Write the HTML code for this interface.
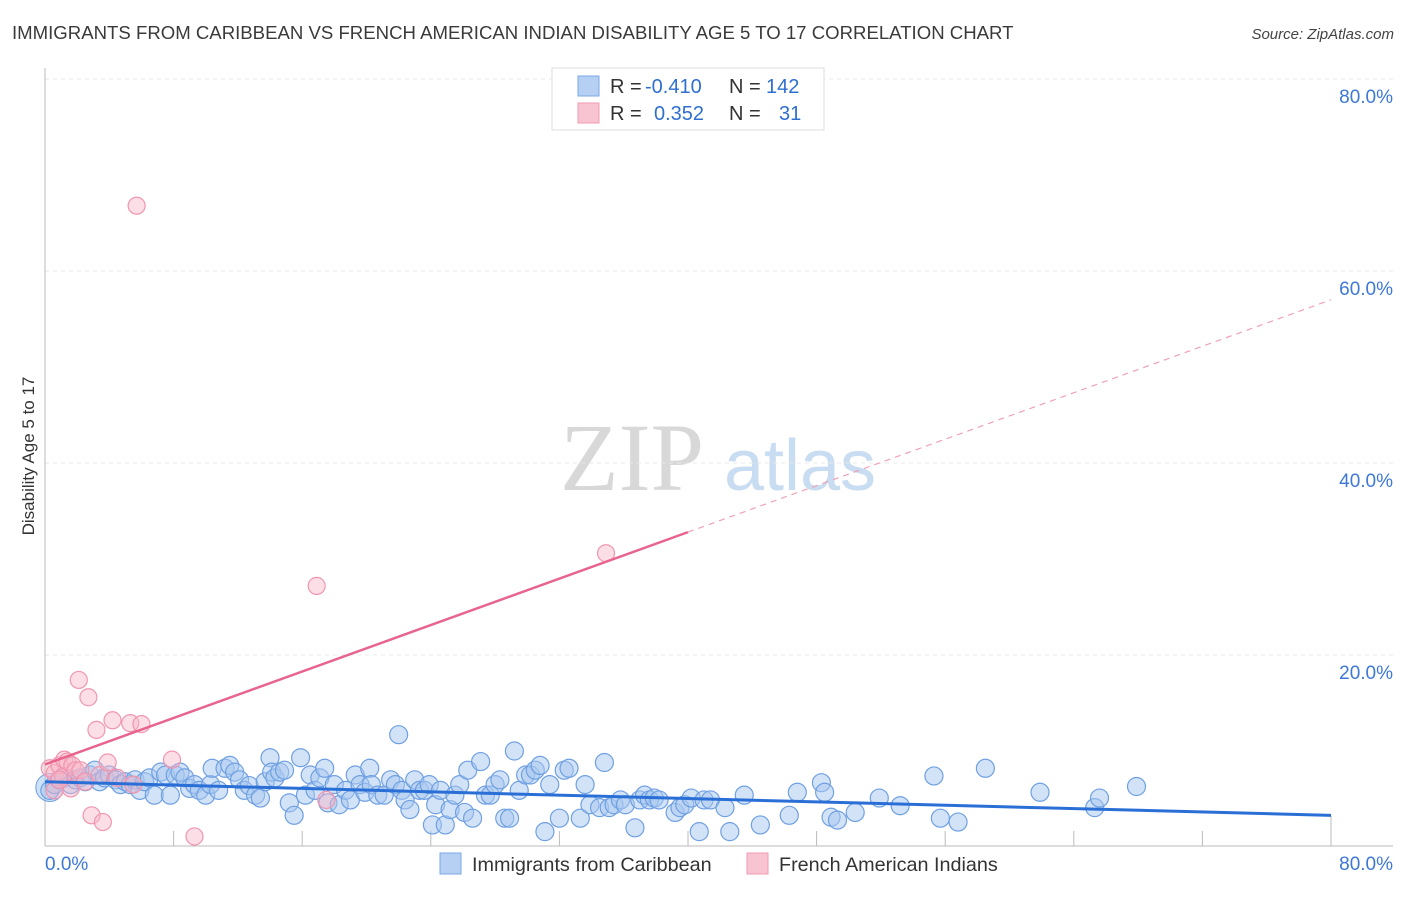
<!DOCTYPE html>
<html><head><meta charset="utf-8"><style>
body{margin:0;background:#fff;width:1406px;height:892px;overflow:hidden;font-family:"Liberation Sans",sans-serif}
</style></head><body>
<svg id="chart" width="1406" height="892" xmlns="http://www.w3.org/2000/svg">
<text x="12" y="39" font-size="18.6" fill="#3a3a3a">IMMIGRANTS FROM CARIBBEAN VS FRENCH AMERICAN INDIAN DISABILITY AGE 5 TO 17 CORRELATION CHART</text>
<text x="1394" y="39" font-size="15" fill="#444" font-style="italic" text-anchor="end">Source: ZipAtlas.com</text>
<text transform="translate(34,456) rotate(-90)" font-size="17" fill="#333" text-anchor="middle">Disability Age 5 to 17</text>
<g>
<text x="632" y="490" font-size="96" fill="#d8d8d8" font-family="Liberation Serif,serif" text-anchor="middle">ZIP</text>
<text x="800" y="490" font-size="72" fill="#c8dcf2" text-anchor="middle">atlas</text>
</g>
<g id="grid"></g><g id="axes"></g><g id="pts"></g><g id="trend"></g>
<g>
<rect x="552" y="68" width="272" height="62" fill="#fff" stroke="#ddd"/>
<rect x="578" y="76" width="21" height="20" fill="#b5d0f2" stroke="#7aa8e6"/>
<rect x="578" y="103" width="21" height="20" fill="#f9c4d2" stroke="#f09ab2"/>
<text x="610" y="93" font-size="20" fill="#333">R = <tspan fill="#2f6fd0" x="645">-0.410</tspan><tspan x="729">N = </tspan><tspan fill="#2f6fd0" x="766">142</tspan></text>
<text x="610" y="120" font-size="20" fill="#333">R = <tspan fill="#2f6fd0" x="654">0.352</tspan><tspan x="729">N = </tspan><tspan fill="#2f6fd0" x="779">31</tspan></text>
</g>
<g>
<rect x="440" y="853" width="21" height="21" fill="#b5d0f2" stroke="#7aa8e6"/>
<text x="472" y="871" font-size="19.8" fill="#333">Immigrants from Caribbean</text>
<rect x="747" y="853" width="21" height="21" fill="#f9c4d2" stroke="#f09ab2"/>
<text x="779" y="871" font-size="19.8" fill="#333">French American Indians</text>
</g>
</svg>
<script>
const blueX=[0.3,0.6,0.9,1.2,1.6,1.9,2.2,2.5,2.8,3.1,3.4,3.7,4.0,4.4,4.7,5.0,5.3,5.6,5.9,6.2,6.5,6.8,7.2,7.5,7.8,8.1,8.4,8.7,9.0,9.3,9.6,10.0,10.3,10.4,10.8,11.2,11.5,11.8,12.1,12.4,12.7,13.1,13.4,13.7,14.0,14.1,14.3,14.6,14.9,15.2,15.5,15.9,16.2,16.5,16.8,17.1,17.4,17.6,18.0,18.3,18.7,19.0,19.3,19.6,19.9,20.2,20.3,20.7,21.1,21.5,21.8,22.0,22.2,22.4,22.7,23.0,23.3,23.6,23.9,24.1,24.3,24.6,24.9,25.2,25.5,25.8,26.1,26.3,26.6,27.1,27.4,27.7,28.0,28.3,28.6,28.9,29.2,29.5,29.9,30.2,30.5,30.8,31.1,31.4,32.0,32.3,32.6,33.3,33.6,33.9,34.5,34.8,35.1,35.4,35.8,36.1,36.7,37.0,37.3,37.6,37.9,38.2,39.2,39.5,39.8,40.2,40.7,41.0,41.4,42.3,42.6,43.5,44.5,46.3,46.8,48.3,48.5,48.9,49.3,50.4,51.9,53.2,55.3,55.7,56.8,58.5,61.9,65.3,65.6,67.9];
const blueY=[5.9,6.5,7.0,7.2,6.5,7.0,7.2,6.8,7.5,8.0,6.8,7.2,7.5,7.0,6.5,6.8,6.5,7.0,5.9,6.8,7.2,5.4,7.8,7.5,5.4,7.5,7.8,7.2,6.1,6.5,5.9,5.4,6.5,8.2,5.9,8.2,8.5,7.8,7.0,5.9,6.4,5.4,5.1,6.8,9.3,7.8,7.2,7.8,8.0,4.6,3.3,9.3,5.4,7.5,5.9,7.2,8.2,4.6,6.5,4.4,5.9,4.9,7.5,6.5,5.7,8.2,6.5,5.4,5.4,7.0,6.5,11.7,5.9,4.9,3.9,7.0,5.9,5.9,6.5,2.3,4.4,5.9,2.3,3.9,5.4,6.5,3.6,8.0,3.0,8.9,5.4,5.4,6.5,7.0,3.0,3.0,10.0,5.9,7.5,7.5,8.0,8.5,1.6,6.5,3.0,8.0,8.2,3.0,6.5,4.4,4.1,8.8,4.1,4.4,4.9,4.4,2.0,4.9,5.4,4.9,5.1,4.9,3.6,4.1,4.4,5.1,1.6,4.9,4.9,4.1,1.6,5.4,2.3,3.3,5.7,6.7,5.7,3.1,2.8,3.6,5.1,4.3,7.4,3.0,2.6,8.2,5.7,4.1,5.1,6.3];
const pinkX=[0.3,0.6,0.9,1.1,1.2,1.4,1.6,1.7,1.9,2.1,2.2,2.5,2.7,2.9,3.2,3.4,3.6,3.9,4.2,4.5,5.3,5.5,5.7,6.0,7.9,9.3,16.9,17.5,34.9,0.6,0.9];
const pinkY=[8.2,7.7,8.5,7.3,9.1,8.9,6.1,8.5,8.0,17.4,8.0,6.8,15.6,3.3,12.2,7.5,2.6,8.8,13.2,7.2,12.9,6.5,66.8,12.8,9.1,1.1,27.2,4.9,30.6,5.9,7.0];
const blueTrendX=[0,80];
const blueTrendY=[6.8,3.3];
const pinkTrendX=[0,40,80];
const pinkTrendY=[8.6,32.8,57.0];
const yTicks=[20,40,60,80];
const xTickLabels=["0.0%","80.0%"];

const NS="http://www.w3.org/2000/svg";
const X0=45,X1=1331,Y0=847,Y1=79;
const sx=v=>X0+(X1-X0)*v/80;
const sy=v=>Y0-(Y0-Y1)*v/80;
function mk(tag,parent,attrs){const e=document.createElementNS(NS,tag);for(const k in attrs)e.setAttribute(k,attrs[k]);parent.appendChild(e);return e;}
const grid=document.getElementById('grid'),axes=document.getElementById('axes'),pts=document.getElementById('pts'),trend=document.getElementById('trend');
yTicks.forEach(t=>{
  const l=mk('line',grid,{x1:X0,x2:1393,y1:sy(t),y2:sy(t),stroke:'#e8e8e8','stroke-dasharray':'4,4'});
  
  
  const tx=mk('text',grid,{x:1393,y:sy(t)+24,'font-size':19,fill:'#3d78d6','text-anchor':'end'});
  tx.textContent=t.toFixed(1)+'%';
  
  
});
let a=mk('line',axes,{x1:X0,x2:X0,y1:68,y2:846,stroke:'#bbb'});


a=mk('line',axes,{x1:X0,x2:1393,y1:846,y2:846,stroke:'#bbb'});


for(let i=1;i<=10;i++){
  const t=mk('line',axes,{x1:sx(i*8),x2:sx(i*8),y1:i==10?816:831,y2:846,stroke:'#bbb'});
  
  
}
[[0,'start',45],[80,'end',1393]].forEach((d,i)=>{
  const tx=mk('text',axes,{x:d[2],y:870,'font-size':19,fill:'#3d78d6','text-anchor':d[1]});
  tx.textContent=xTickLabels[i];
  
  
});
const big=mk('circle',pts,{cx:sx(0.3),cy:sy(6.2),r:14,fill:'rgba(160,196,240,0.5)',stroke:'#6fa0e2'});


blueX.forEach((x,i)=>{
  const c=mk('circle',pts,{cx:sx(x),cy:sy(blueY[i]),r:9,fill:'rgba(168,200,240,0.5)',stroke:'#6fa0e2','stroke-width':1.2});
  
  
});
pinkX.forEach((x,i)=>{
  const c=mk('circle',pts,{cx:sx(x),cy:sy(pinkY[i]),r:8.5,fill:'rgba(248,182,200,0.45)',stroke:'#f096b0','stroke-width':1.2});
  
  
});
let tl=mk('line',trend,{x1:sx(blueTrendX[0]),y1:sy(blueTrendY[0]),x2:sx(blueTrendX[1]),y2:sy(blueTrendY[1]),stroke:'#2a6fd6','stroke-width':3});


tl=mk('line',trend,{x1:sx(pinkTrendX[0]),y1:sy(pinkTrendY[0]),x2:sx(pinkTrendX[1]),y2:sy(pinkTrendY[1]),stroke:'#e8648e','stroke-width':2.5});


tl=mk('line',trend,{x1:sx(pinkTrendX[1]),y1:sy(pinkTrendY[1]),x2:sx(pinkTrendX[2]),y2:sy(pinkTrendY[2]),stroke:'#f0a0b8','stroke-width':1.2,'stroke-dasharray':'6,5'});


</script>
</body></html>
